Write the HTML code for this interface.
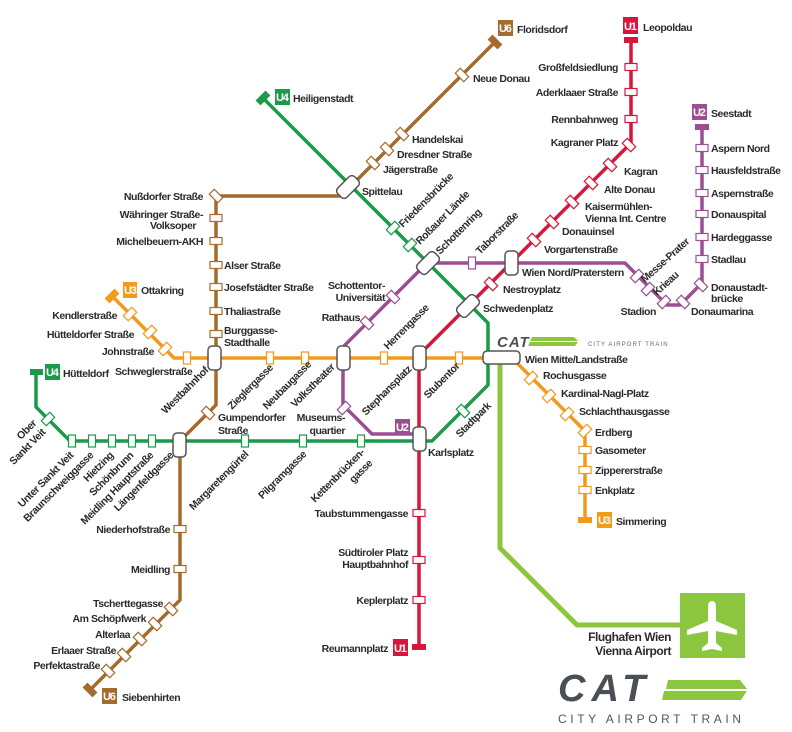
<!DOCTYPE html>
<html><head><meta charset="utf-8"><style>
html,body{margin:0;padding:0;background:#fff;}
svg{display:block;}
text{font-family:"Liberation Sans Narrow","Liberation Sans",sans-serif;font-weight:bold;font-size:10.5px;letter-spacing:-0.45px;fill:#2b2b2b;}
.e{text-anchor:end;}
.lb{fill:#fff;font-size:11px;letter-spacing:-1.2px;}
</style></head><body>
<svg width="792" height="732" viewBox="0 0 792 732" xmlns="http://www.w3.org/2000/svg">
<g fill="none" stroke-linejoin="round">
<polyline points="500,364 500,548 577,625 680,625" stroke="#8cc63f" stroke-width="5"/>
<polyline points="495,42 341,196 216,196 216,405 180,441 180,600 90,690" stroke="#a56a2c" stroke-width="3.5"/>
<polyline points="263,98 470,305 488,323 488,385 432,441 70,441 36,407 36,372" stroke="#1b9a4a" stroke-width="3.5"/>
<polyline points="631,40 631,143 419,355 419,647" stroke="#d6163b" stroke-width="3.5"/>
<polyline points="702,127 702,283 680,305 667,305 625,263 427,263 343,347 343,405 372,434 418,434" stroke="#9b4f92" stroke-width="3.5"/>
<polyline points="112,296 174,358 512,358 585,431 585,520" stroke="#f29a1b" stroke-width="3.5"/>
</g>
<g>
<rect x="-7" y="-3.5" width="14" height="7" fill="#a56a2c" transform="translate(495,42) rotate(45)"/>
<rect x="-7" y="-3.5" width="14" height="7" fill="#a56a2c" transform="translate(90,690) rotate(45)"/>
<rect x="-7" y="-3.5" width="14" height="7" fill="#1b9a4a" transform="translate(263,98) rotate(-45)"/>
<rect x="30" y="369" width="13" height="6" fill="#1b9a4a"/>
<rect x="624" y="37" width="14" height="6" fill="#d6163b"/>
<rect x="412" y="644" width="14" height="6" fill="#d6163b"/>
<rect x="695" y="124" width="14" height="6" fill="#9b4f92"/>
<rect x="-7" y="-3.5" width="14" height="7" fill="#f29a1b" transform="translate(112,296) rotate(-45)"/>
<rect x="578" y="517" width="14" height="6" fill="#f29a1b"/>
</g>
<g fill="#fff" stroke-width="1.2">
<g stroke="#a56a2c">
<rect x="-6" y="-3.5" width="12" height="7" transform="translate(462,75) rotate(45)"/>
<rect x="-6" y="-3.5" width="12" height="7" transform="translate(402,134) rotate(45)"/>
<rect x="-6" y="-3.5" width="12" height="7" transform="translate(387,149) rotate(45)"/>
<rect x="-6" y="-3.5" width="12" height="7" transform="translate(373,163) rotate(45)"/>
<rect x="-6" y="-3.5" width="12" height="7" transform="translate(216,196) rotate(45)"/>
<rect x="-6" y="-3.5" width="12" height="7" transform="translate(216,218)"/>
<rect x="-6" y="-3.5" width="12" height="7" transform="translate(216,241)"/>
<rect x="-6" y="-3.5" width="12" height="7" transform="translate(216,265)"/>
<rect x="-6" y="-3.5" width="12" height="7" transform="translate(216,287)"/>
<rect x="-6" y="-3.5" width="12" height="7" transform="translate(216,311)"/>
<rect x="-6" y="-3.5" width="12" height="7" transform="translate(216,334)"/>
<rect x="-6" y="-3.5" width="12" height="7" transform="translate(208,413) rotate(45)"/>
<rect x="-6" y="-3.5" width="12" height="7" transform="translate(180,529)"/>
<rect x="-6" y="-3.5" width="12" height="7" transform="translate(180,569)"/>
<rect x="-6" y="-3.5" width="12" height="7" transform="translate(171,609) rotate(45)"/>
<rect x="-6" y="-3.5" width="12" height="7" transform="translate(155,624) rotate(45)"/>
<rect x="-6" y="-3.5" width="12" height="7" transform="translate(140,639) rotate(45)"/>
<rect x="-6" y="-3.5" width="12" height="7" transform="translate(124,655) rotate(45)"/>
<rect x="-6" y="-3.5" width="12" height="7" transform="translate(108,671) rotate(45)"/>
</g>
<g stroke="#1b9a4a">
<rect x="-6" y="-3.5" width="12" height="7" transform="translate(393,228) rotate(-45)"/>
<rect x="-6" y="-3.5" width="12" height="7" transform="translate(410,245) rotate(-45)"/>
<rect x="-6" y="-3.5" width="12" height="7" transform="translate(463,411) rotate(45)"/>
<rect x="-6" y="-3.5" width="12" height="7" transform="translate(48,419) rotate(-45)"/>
<rect x="-6" y="-3.5" width="12" height="7" transform="translate(72,441) rotate(90)"/>
<rect x="-6" y="-3.5" width="12" height="7" transform="translate(92,441) rotate(90)"/>
<rect x="-6" y="-3.5" width="12" height="7" transform="translate(112,441) rotate(90)"/>
<rect x="-6" y="-3.5" width="12" height="7" transform="translate(132,441) rotate(90)"/>
<rect x="-6" y="-3.5" width="12" height="7" transform="translate(152,441) rotate(90)"/>
<rect x="-6" y="-3.5" width="12" height="7" transform="translate(245,441) rotate(90)"/>
<rect x="-6" y="-3.5" width="12" height="7" transform="translate(303,441) rotate(90)"/>
<rect x="-6" y="-3.5" width="12" height="7" transform="translate(361,441) rotate(90)"/>
</g>
<g stroke="#d6163b">
<rect x="-6" y="-3.5" width="12" height="7" transform="translate(631,67)"/>
<rect x="-6" y="-3.5" width="12" height="7" transform="translate(631,92)"/>
<rect x="-6" y="-3.5" width="12" height="7" transform="translate(631,119)"/>
<rect x="-6" y="-3.5" width="12" height="7" transform="translate(629,145) rotate(45)"/>
<rect x="-6" y="-3.5" width="12" height="7" transform="translate(610,165) rotate(45)"/>
<rect x="-6" y="-3.5" width="12" height="7" transform="translate(591,183) rotate(45)"/>
<rect x="-6" y="-3.5" width="12" height="7" transform="translate(572,202) rotate(45)"/>
<rect x="-6" y="-3.5" width="12" height="7" transform="translate(552,222) rotate(45)"/>
<rect x="-6" y="-3.5" width="12" height="7" transform="translate(534,240) rotate(45)"/>
<rect x="-6" y="-3.5" width="12" height="7" transform="translate(491,284) rotate(45)"/>
<rect x="-6" y="-3.5" width="12" height="7" transform="translate(419,513)"/>
<rect x="-6" y="-3.5" width="12" height="7" transform="translate(419,560)"/>
<rect x="-6" y="-3.5" width="12" height="7" transform="translate(419,600)"/>
</g>
<g stroke="#9b4f92">
<rect x="-6" y="-3.5" width="12" height="7" transform="translate(702,148)"/>
<rect x="-6" y="-3.5" width="12" height="7" transform="translate(702,170)"/>
<rect x="-6" y="-3.5" width="12" height="7" transform="translate(702,193)"/>
<rect x="-6" y="-3.5" width="12" height="7" transform="translate(702,214)"/>
<rect x="-6" y="-3.5" width="12" height="7" transform="translate(702,237)"/>
<rect x="-6" y="-3.5" width="12" height="7" transform="translate(702,259)"/>
<rect x="-6" y="-3.5" width="12" height="7" transform="translate(701,285) rotate(45)"/>
<rect x="-6" y="-3.5" width="12" height="7" transform="translate(683,302) rotate(45)"/>
<rect x="-6" y="-3.5" width="12" height="7" transform="translate(664,302) rotate(-45)"/>
<rect x="-6" y="-3.5" width="12" height="7" transform="translate(648,289) rotate(-45)"/>
<rect x="-6" y="-3.5" width="12" height="7" transform="translate(637,276) rotate(-45)"/>
<rect x="-6" y="-3.5" width="12" height="7" transform="translate(472,263) rotate(90)"/>
<rect x="-6" y="-3.5" width="12" height="7" transform="translate(393,297) rotate(45)"/>
<rect x="-6" y="-3.5" width="12" height="7" transform="translate(367,323) rotate(45)"/>
<rect x="-6" y="-3.5" width="12" height="7" transform="translate(344,408) rotate(-45)"/>
</g>
<g stroke="#f29a1b">
<rect x="-6" y="-3.5" width="12" height="7" transform="translate(130,314) rotate(-45)"/>
<rect x="-6" y="-3.5" width="12" height="7" transform="translate(150,332) rotate(-45)"/>
<rect x="-6" y="-3.5" width="12" height="7" transform="translate(165,349) rotate(-45)"/>
<rect x="-6" y="-3.5" width="12" height="7" transform="translate(187,358) rotate(90)"/>
<rect x="-6" y="-3.5" width="12" height="7" transform="translate(270,358) rotate(90)"/>
<rect x="-6" y="-3.5" width="12" height="7" transform="translate(305,358) rotate(90)"/>
<rect x="-6" y="-3.5" width="12" height="7" transform="translate(384,358) rotate(90)"/>
<rect x="-6" y="-3.5" width="12" height="7" transform="translate(459,358) rotate(90)"/>
<rect x="-6" y="-3.5" width="12" height="7" transform="translate(531,378) rotate(-45)"/>
<rect x="-6" y="-3.5" width="12" height="7" transform="translate(549,396) rotate(-45)"/>
<rect x="-6" y="-3.5" width="12" height="7" transform="translate(567,414) rotate(-45)"/>
<rect x="-6" y="-3.5" width="12" height="7" transform="translate(585,431) rotate(-45)"/>
<rect x="-6" y="-3.5" width="12" height="7" transform="translate(585,450)"/>
<rect x="-6" y="-3.5" width="12" height="7" transform="translate(585,470)"/>
<rect x="-6" y="-3.5" width="12" height="7" transform="translate(585,490)"/>
</g>
</g>
<g fill="#fff" stroke="#555" stroke-width="1.5">
<rect x="-6.5" y="-12" width="13" height="24" rx="4" transform="translate(348,187) rotate(45)"/>
<rect x="-6.5" y="-12" width="13" height="24" rx="4" transform="translate(428,263) rotate(45)"/>
<rect x="-6.5" y="-12" width="13" height="24" rx="4" transform="translate(468,306) rotate(45)"/>
<rect x="505" y="251" width="13" height="24" rx="4"/>
<rect x="208" y="346" width="13" height="24" rx="4"/>
<rect x="337" y="346" width="13" height="24" rx="4"/>
<rect x="413" y="346" width="13" height="24" rx="4"/>
<rect x="413" y="427" width="13" height="24" rx="4"/>
<rect x="173" y="433" width="13" height="24" rx="4"/>
<rect x="483" y="351" width="37" height="13" rx="4"/>
</g>
<g>
<rect x="498" y="20" width="15" height="16" fill="#a56a2c"/><text x="499" y="32" class="lb">U6</text>
<rect x="102" y="688" width="15" height="16" fill="#a56a2c"/><text x="103" y="700" class="lb">U6</text>
<rect x="275" y="89" width="15" height="16" fill="#1b9a4a"/><text x="276" y="101" class="lb">U4</text>
<rect x="45" y="364" width="15" height="16" fill="#1b9a4a"/><text x="46" y="376" class="lb">U4</text>
<rect x="623" y="17" width="15" height="17" fill="#d6163b"/><text x="624" y="30" class="lb">U1</text>
<rect x="393" y="639" width="15" height="17" fill="#d6163b"/><text x="394" y="652" class="lb">U1</text>
<rect x="692" y="104" width="15" height="16" fill="#9b4f92"/><text x="693" y="116" class="lb">U2</text>
<rect x="395" y="419" width="15" height="16" fill="#9b4f92"/><text x="396" y="431" class="lb">U2</text>
<rect x="123" y="282" width="14" height="16" fill="#f29a1b"/><text x="124" y="294" class="lb">U3</text>
<rect x="597" y="512" width="15" height="16" fill="#f29a1b"/><text x="598" y="524" class="lb">U3</text>
</g>
<text x="517" y="33">Floridsdorf</text>
<text x="473" y="82">Neue Donau</text>
<text x="293" y="102">Heiligenstadt</text>
<text x="412" y="143">Handelskai</text>
<text x="397" y="158">Dresdner Straße</text>
<text x="383" y="173">Jägerstraße</text>
<text x="362" y="195">Spittelau</text>
<text x="203" y="200" class="e">Nußdorfer Straße</text>
<text x="203" y="218" class="e">Währinger Straße-</text>
<text x="196" y="229" class="e">Volksoper</text>
<text x="203" y="245" class="e">Michelbeuern-AKH</text>
<text x="224" y="269">Alser Straße</text>
<text x="224" y="291">Josefstädter Straße</text>
<text x="224" y="315">Thaliastraße</text>
<text x="224" y="334">Burggasse-</text>
<text x="224" y="346">Stadthalle</text>
<text x="643" y="31">Leopoldau</text>
<text x="618" y="71" class="e">Großfeldsiedlung</text>
<text x="618" y="96" class="e">Aderklaaer Straße</text>
<text x="618" y="123" class="e">Rennbahnweg</text>
<text x="618" y="146" class="e">Kagraner Platz</text>
<text x="624" y="175">Kagran</text>
<text x="604" y="193">Alte Donau</text>
<text x="585" y="210">Kaisermühlen-</text>
<text x="585" y="222">Vienna Int. Centre</text>
<text x="562" y="235">Donauinsel</text>
<text x="544" y="253">Vorgartenstraße</text>
<text x="711" y="117">Seestadt</text>
<text x="711" y="152">Aspern Nord</text>
<text x="711" y="174">Hausfeldstraße</text>
<text x="711" y="197">Aspernstraße</text>
<text x="711" y="218">Donauspital</text>
<text x="711" y="241">Hardeggasse</text>
<text x="711" y="263">Stadlau</text>
<text x="711" y="291">Donaustadt-</text>
<text x="711" y="302">brücke</text>
<text x="691" y="315">Donaumarina</text>
<text x="656" y="315" class="e">Stadion</text>
<text transform="translate(645,283) rotate(-42)">Messe-Prater</text>
<text transform="translate(657,296) rotate(-42)">Krieau</text>
<text x="522" y="276">Wien Nord/Praterstern</text>
<text x="503" y="293">Nestroyplatz</text>
<text x="483" y="312">Schwedenplatz</text>
<text transform="translate(403,228) rotate(-45)">Friedensbrücke</text>
<text transform="translate(420,245) rotate(-45)">Roßauer Lände</text>
<text transform="translate(440,255) rotate(-45)">Schottenring</text>
<text transform="translate(480,255) rotate(-45)">Taborstraße</text>
<text x="385" y="289" class="e">Schottentor-</text>
<text x="385" y="301" class="e">Universität</text>
<text x="360" y="321" class="e">Rathaus</text>
<text x="117" y="319" class="e">Kendlerstraße</text>
<text x="134" y="338" class="e">Hütteldorfer Straße</text>
<text x="154" y="355" class="e">Johnstraße</text>
<text x="115" y="375">Schweglerstraße</text>
<text x="141" y="294">Ottakring</text>
<text x="63" y="377">Hütteldorf</text>
<text transform="translate(209,371) rotate(-45)" class="e">Westbahnhof</text>
<text transform="translate(232,410) rotate(-45)">Zieglergasse</text>
<text transform="translate(267,410) rotate(-45)">Neubaugasse</text>
<text transform="translate(295,408) rotate(-45)">Volkstheater</text>
<text x="218" y="421">Gumpendorfer</text>
<text x="218" y="434">Straße</text>
<text x="345" y="421" class="e">Museums-</text>
<text x="345" y="434" class="e">quartier</text>
<text transform="translate(388,350) rotate(-45)">Herrengasse</text>
<text transform="translate(366,416) rotate(-45)">Stephansplatz</text>
<text transform="translate(428,399) rotate(-45)">Stubentor</text>
<text transform="translate(460,438) rotate(-45)">Stadtpark</text>
<text x="428" y="456">Karlsplatz</text>
<text x="525" y="363">Wien Mitte/Landstraße</text>
<text x="543" y="379">Rochusgasse</text>
<text x="561" y="397">Kardinal-Nagl-Platz</text>
<text x="579" y="415">Schlachthausgasse</text>
<text x="595" y="436">Erdberg</text>
<text x="595" y="454">Gasometer</text>
<text x="595" y="474">Zippererstraße</text>
<text x="595" y="494">Enkplatz</text>
<text x="616" y="525">Simmering</text>
<text transform="translate(37,424) rotate(-45)" class="e">Ober</text>
<text transform="translate(46,433) rotate(-45)" class="e">Sankt Veit</text>
<text transform="translate(74,456) rotate(-45)" class="e">Unter Sankt Veit</text>
<text transform="translate(94,456) rotate(-45)" class="e">Braunschweiggasse</text>
<text transform="translate(114,456) rotate(-45)" class="e">Hietzing</text>
<text transform="translate(134,456) rotate(-45)" class="e">Schönbrunn</text>
<text transform="translate(154,456) rotate(-45)" class="e">Meidling Hauptstraße</text>
<text transform="translate(174,456) rotate(-45)" class="e">Längenfeldgasse</text>
<text transform="translate(249,455) rotate(-45)" class="e">Margaretengürtel</text>
<text transform="translate(307,455) rotate(-45)" class="e">Pilgramgasse</text>
<text transform="translate(365,453) rotate(-45)" class="e">Kettenbrücken-</text>
<text transform="translate(373,464) rotate(-45)" class="e">gasse</text>
<text x="408" y="517" class="e">Taubstummengasse</text>
<text x="408" y="556" class="e">Südtiroler Platz</text>
<text x="408" y="568" class="e">Hauptbahnhof</text>
<text x="408" y="604" class="e">Keplerplatz</text>
<text x="388" y="652" class="e">Reumannplatz</text>
<text x="170" y="533" class="e">Niederhofstraße</text>
<text x="170" y="573" class="e">Meidling</text>
<text x="163" y="607" class="e">Tscherttegasse</text>
<text x="146" y="622" class="e">Am Schöpfwerk</text>
<text x="130" y="638" class="e">Alterlaa</text>
<text x="116" y="654" class="e">Erlaaer Straße</text>
<text x="100" y="669" class="e">Perfektastraße</text>
<text x="122" y="701">Siebenhirten</text>
<rect x="680" y="593" width="65" height="65" fill="#8cc63f"/>
<path d="M712,601 c3,0 4,3 4,6 l0,14 l21,9 l0,5 l-21,-4 l0,12 l6,5 l0,3 l-10,-2 l-10,2 l0,-3 l6,-5 l0,-12 l-21,4 l0,-5 l21,-9 l0,-14 c0,-3 1,-6 4,-6z" fill="#fff"/>
<text x="671" y="641" class="e" style="font-size:12px">Flughafen Wien</text>
<text x="671" y="655" class="e" style="font-size:12px">Vienna Airport</text>
<text x="497" y="347" style="font-size:15px;font-style:italic;font-weight:900;fill:#4a4f55;letter-spacing:1px">CAT</text>
<polygon points="532,337 574,337 578,341 530,341" fill="#8cc63f"/>
<polygon points="530,342 578,342 575,346 528,346" fill="#8cc63f"/>
<text x="588" y="346" style="font-size:6px;fill:#666;letter-spacing:1.1px;font-weight:normal">CITY AIRPORT TRAIN</text>
<text x="558" y="701" style="font-size:38px;font-style:italic;font-weight:900;fill:#4a4f55;letter-spacing:6px">CAT</text>
<polygon points="668,680 740,680 747,689 666,689" fill="#8cc63f"/>
<polygon points="664,691 747,691 741,700 662,700" fill="#8cc63f"/>
<text x="558" y="723" style="font-size:12px;fill:#555;letter-spacing:3.6px;font-weight:normal;font-family:'Liberation Sans',sans-serif">CITY AIRPORT TRAIN</text>
</svg>
</body></html>
